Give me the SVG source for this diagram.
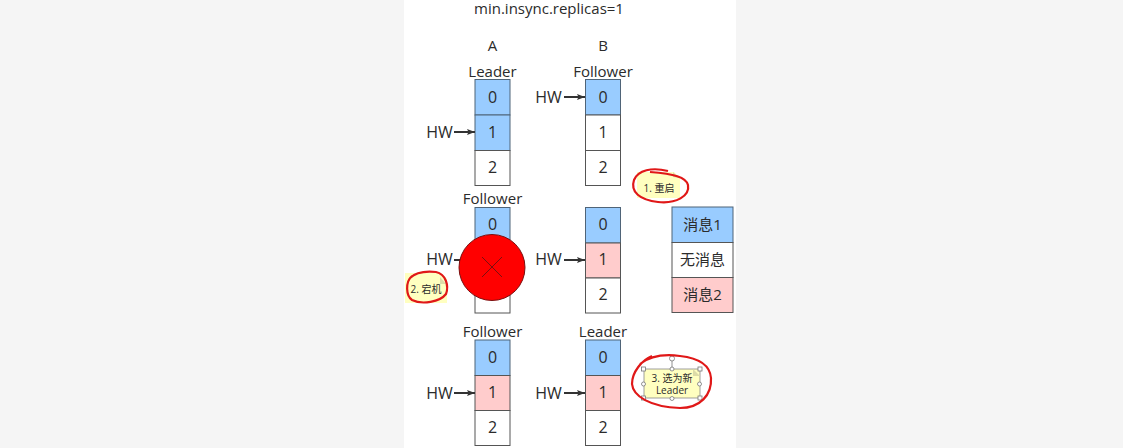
<svg xmlns="http://www.w3.org/2000/svg" width="1123" height="448" viewBox="0 0 1123 448">
<defs>
<marker id="arr" markerUnits="userSpaceOnUse" markerWidth="9" markerHeight="7" refX="8" refY="3.500" orient="auto"><path d="M0 0.500L8 3.500L0 6.500L1.500 3.500Z" fill="#333"/></marker>
</defs>
<style>
text{font-family:"Open Sans","Noto Sans CJK SC","Noto Sans",sans-serif;fill:#2b2b2b;font-size:15px;text-anchor:middle}
.d{font-size:16px}
.b{fill:#99ccff;stroke:#4f6478;stroke-width:1}
.w{fill:#fff;stroke:#555;stroke-width:1}
.p{fill:#ffcccc;stroke:#555;stroke-width:1}
.c{fill:none;stroke:#333;stroke-width:2;marker-end:url(#arr)}
.n{fill:#ffffc0;stroke:none}
.f{fill:#dcdca8}
.r{fill:none;stroke:#e01818;stroke-width:2.200}
.s{font-size:10px}
.h{fill:#fff;stroke:#777;stroke-width:.8}
</style>
<rect width="1123" height="448" fill="#f5f5f5"/>
<rect x="404" y="0" width="332" height="448" fill="#fff"/>
<text x="549" y="14">min.insync.replicas=1</text>
<text x="492.500" y="51">A</text>
<text x="603" y="51">B</text>
<g id="a-top">
<text x="492.500" y="77">Leader</text>
<rect class="b" x="475" y="79.500" width="35" height="35.500"/><rect class="b" x="475" y="115" width="35" height="35.500"/><rect class="w" x="475" y="150.500" width="35" height="35"/>
<text class="d" x="492.500" y="103">0</text><text class="d" x="492.500" y="138">1</text><text class="d" x="492.500" y="173">2</text>
<text class="d" x="439.500" y="138">HW</text>
</g>
<g id="b-top">
<text x="603" y="77">Follower</text>
<rect class="b" x="585.500" y="79.500" width="35" height="35.500"/><rect class="w" x="585.500" y="115" width="35" height="35.500"/><rect class="w" x="585.500" y="150.500" width="35" height="35"/>
<text class="d" x="603" y="103">0</text><text class="d" x="603" y="138">1</text><text class="d" x="603" y="173">2</text>
<text class="d" x="548.500" y="103">HW</text>
</g>
<g id="a-mid">
<text x="492.500" y="204">Follower</text>
<rect class="b" x="475" y="207.500" width="35" height="35.500"/><rect class="w" x="475" y="243" width="35" height="35"/><rect class="w" x="475" y="278" width="35" height="35"/>
<text class="d" x="492.500" y="230">0</text>
<text class="d" x="439.500" y="265">HW</text>
</g>
<g id="b-mid">
<rect class="b" x="585.500" y="207.500" width="35" height="35.500"/><rect class="p" x="585.500" y="243" width="35" height="35"/><rect class="w" x="585.500" y="278" width="35" height="35"/>
<text class="d" x="603" y="230">0</text><text class="d" x="603" y="265">1</text><text class="d" x="603" y="300">2</text>
<text class="d" x="548.500" y="265">HW</text>
</g>
<g id="a-bot">
<text x="492.500" y="337">Follower</text>
<rect class="b" x="475" y="340" width="35" height="35.500"/><rect class="p" x="475" y="375.500" width="35" height="35"/><rect class="w" x="475" y="410.500" width="35" height="35"/>
<text class="d" x="492.500" y="363">0</text><text class="d" x="492.500" y="398">1</text><text class="d" x="492.500" y="433">2</text>
<text class="d" x="439.500" y="399">HW</text>
</g>
<g id="b-bot">
<text x="603" y="337">Leader</text>
<rect class="b" x="585.500" y="340" width="35" height="35.500"/><rect class="p" x="585.500" y="375.500" width="35" height="35"/><rect class="w" x="585.500" y="410.500" width="35" height="35"/>
<text class="d" x="603" y="363">0</text><text class="d" x="603" y="398">1</text><text class="d" x="603" y="433">2</text>
<text class="d" x="548.500" y="399">HW</text>
</g>
<g id="connectors">
<path class="c" d="M454 132H475"/>
<path class="c" d="M564 97H585"/>
<path class="c" d="M454 260H475"/>
<path class="c" d="M564 260H585"/>
<path class="c" d="M454 393H475"/>
<path class="c" d="M564 393H585"/>
</g>
<g id="crash">
<circle cx="492" cy="267.500" r="33" fill="#ff0000" stroke="#7a1010" stroke-width="1"/>
<path d="M482 257L502 277M502 257L482 277" stroke="#7a1010" stroke-width="1" fill="none"/>
</g>
<g id="legend">
<rect class="b" x="672" y="207" width="61" height="35.500"/><rect class="w" x="672" y="242.500" width="61" height="35"/><rect class="p" x="672" y="277.500" width="61" height="35"/>
<text x="702.500" y="230">消息1</text><text x="702.500" y="265">无消息</text><text x="702.500" y="300">消息2</text>
</g>
<g id="note-1">
<path class="n" d="M637 172H674L680 178V198H637Z"/><path class="f" d="M673 177L679 178L673 172Z"/>
<text class="s" x="659" y="192">1. 重启</text>
<path class="r" d="M668 171C652 167 638 170 634 180C630 192 640 200 658 202C676 204 690 196 688 185C686 177 674 174 650 172"/>
</g>
<g id="note-2">
<path class="n" d="M405 273H441L447 279V303H405Z"/><path class="f" d="M440 277L446 284L440 284Z"/>
<text class="s" x="426" y="293">2. 宕机</text>
<path class="r" d="M412 276C405 282 406 296 412 300C422 305 440 302 446 294C449 286 446 274 436 272C426 271 416 272 410 278"/>
</g>
<g id="note-3">
<rect x="644" y="369" width="56" height="29" fill="#ffffc0" stroke="#888" stroke-width=".8"/><path class="f" d="M693 369L700 376H693Z"/>
<text class="s" x="672" y="382">3. 选为新</text><text class="s" x="672" y="394">Leader</text>
<path d="M672 369V361" stroke="#777" stroke-width=".8"/>
<circle class="h" cx="672" cy="358.500" r="2.500"/>
<rect class="h" x="641.500" y="367" width="4" height="4"/><rect class="h" x="698" y="367" width="4" height="4"/><rect class="h" x="641.500" y="396" width="4" height="4"/><rect class="h" x="698" y="396" width="4" height="4"/>
<circle class="h" cx="643.500" cy="384" r="2"/><circle class="h" cx="699.500" cy="384" r="2"/><circle class="h" cx="672" cy="398.500" r="2"/><circle class="h" cx="672" cy="369" r="2"/>
<path class="r" d="M652 356C642 360 632 372 632 384C633 396 650 407 680 408C700 408 712 395 711 378C710 365 698 358 680 356C665 354 650 356 640 364"/>
</g>
</svg>
